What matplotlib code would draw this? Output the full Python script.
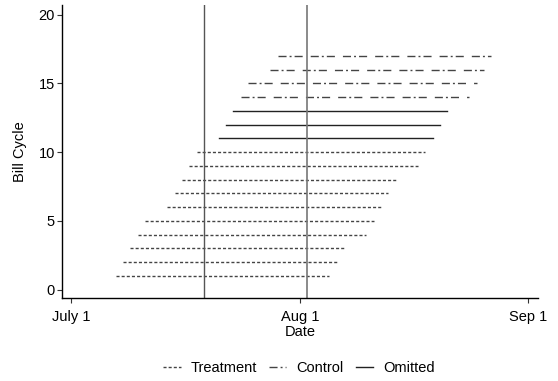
import matplotlib

matplotlib.use("Agg")

import matplotlib.pyplot as plt
from matplotlib.lines import Line2D

plt.rcParams["font.family"] = ["Liberation Sans", "DejaVu Sans"]

# days since July 1
cycles = list(range(1, 18))
starts = [6, 7, 8, 9, 10, 13, 14, 15, 16, 17, 20, 21, 22, 23, 24, 27, 28]
ends = [35, 36, 37, 40, 41, 42, 43, 44, 47, 48, 49, 50, 51, 54, 55, 56, 57]
groups = ["Treatment"] * 10 + ["Omitted"] * 3 + ["Control"] * 4
event_days = [18, 32]
tick_days = [0, 31, 62]
tick_labels = ["July 1", "Aug 1", "Sep 1"]

dash_treat = (2.2, 1.5)
dash_ctrl = (5.8, 2.2, 1.4, 2.2, 5.8, 5.8)
styles = {
    "Treatment": dict(color="#444444", dashes=dash_treat),
    "Control": dict(color="#444444", dashes=dash_ctrl),
    "Omitted": dict(color="#222222", linestyle="-"),
}

fs = 10.5
fig = plt.figure(figsize=(5.58, 3.81), dpi=100)
ax = fig.add_axes([0.112, 0.218, 0.852, 0.769])

for c, s, e, g in zip(cycles, starts, ends, groups):
    ax.plot([s, e], [c, c], linewidth=1.0, **styles[g])

ax.axvline(event_days[0], color="#555555", linewidth=1.0)
ax.axvline(event_days[1], color="#777777", linewidth=1.2)

ax.set_xlim(-1.2, 63.3)
ax.set_ylim(-0.6, 20.7)
ax.set_xticks(tick_days)
ax.set_xticklabels(tick_labels)
ax.set_yticks([0, 5, 10, 15, 20])
ax.tick_params(labelsize=fs, length=3.5, width=0.8, color="#333333")
ax.tick_params(axis="x", pad=5)
ax.tick_params(axis="y", pad=2)
ax.set_xlabel("Date", fontsize=fs, labelpad=1)
ax.set_ylabel("Bill Cycle", fontsize=fs, labelpad=8)
ax.spines["top"].set_visible(False)
ax.spines["right"].set_visible(False)
for sp in ("left", "bottom"):
    ax.spines[sp].set_linewidth(1.0)

handles = [
    Line2D([], [], linewidth=1.0, **styles["Treatment"]),
    Line2D([], [], linewidth=1.0, **styles["Control"]),
    Line2D([], [], linewidth=1.0, **styles["Omitted"]),
]
fig.legend(handles, ["Treatment", "Control", "Omitted"], loc="center",
           bbox_to_anchor=(0.536, 0.034), ncol=3, frameon=False,
           fontsize=fs, handlelength=1.2, handletextpad=0.7, columnspacing=0.8)

fig.savefig("out.png", dpi=100)
plt.close(fig)
